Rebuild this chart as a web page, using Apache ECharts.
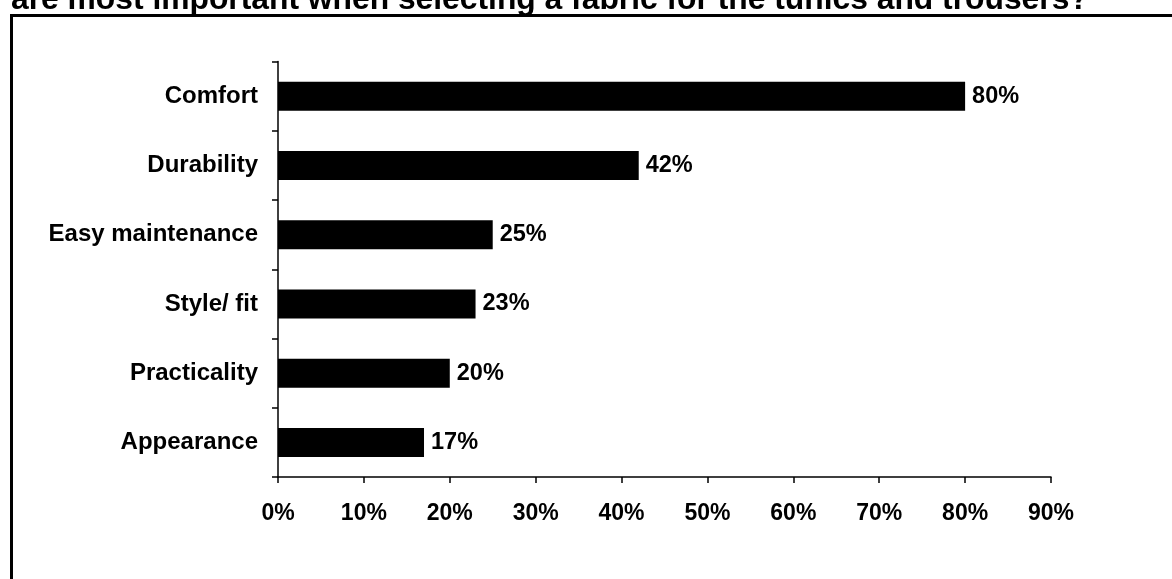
<!DOCTYPE html>
<html>
<head>
<meta charset="utf-8">
<script src="https://cdn.jsdelivr.net/npm/echarts@6/dist/echarts.min.js"></script>
<style>
  html, body { margin: 0; padding: 0; background: #fff; }
  #chart { width: 1172px; height: 579px; }
</style>
</head>
<body>
<div id="chart"></div>
<script>
// Survey results: most important fabric qualities
const categories = ['Comfort', 'Durability', 'Easy maintenance', 'Style/ fit', 'Practicality', 'Appearance'];
const shares = [80, 42, 25, 23, 20, 17];
const axisMax = 90;
const axisStep = 10;
const titleText = 'are most important when selecting a fabric for the tunics and trousers?';

const FONT = 'Liberation Sans, Arial, sans-serif';

const chart = echarts.init(document.getElementById('chart'), null, { renderer: 'canvas' });

chart.setOption({
  backgroundColor: '#ffffff',
  animation: false,
  grid: { left: 278, right: 121, top: 61.5, bottom: 102, containLabel: false },
  xAxis: {
    type: 'value',
    min: 0,
    max: axisMax,
    interval: axisStep,
    axisLine: { show: true, lineStyle: { color: '#000', width: 1.5 } },
    axisTick: { show: true, length: 6, inside: false, lineStyle: { color: '#000', width: 1.5 } },
    splitLine: { show: false },
    axisLabel: {
      formatter: v => v + '%',
      color: '#000',
      fontFamily: FONT,
      fontWeight: 'bold',
      fontSize: 23,
      margin: 25
    }
  },
  yAxis: {
    type: 'category',
    inverse: true,
    data: categories,
    axisLine: { show: true, lineStyle: { color: '#000', width: 1.5 } },
    axisTick: { show: true, length: 6, lineStyle: { color: '#000', width: 1.5 } },
    axisLabel: {
      color: '#000',
      fontFamily: FONT,
      fontWeight: 'bold',
      fontSize: 24,
      margin: 20
    }
  },
  series: [{
    type: 'bar',
    data: shares,
    barWidth: 29,
    itemStyle: { color: '#000' },
    label: {
      show: true,
      position: 'right',
      distance: 7,
      formatter: p => p.value + '%',
      color: '#000',
      fontFamily: FONT,
      fontWeight: 'bold',
      fontSize: 23.5
    }
  }],
  graphic: [
    {
      type: 'text',
      left: 11,
      top: -16,
      style: {
        text: titleText,
        fill: '#000',
        font: 'bold 31.8px ' + FONT
      }
    },
    {
      type: 'rect',
      shape: { x: 11.5, y: 15.5, width: 1300, height: 700 },
      style: { fill: 'none', stroke: '#000', lineWidth: 3 }
    }
  ]
});
</script>
</body>
</html>
